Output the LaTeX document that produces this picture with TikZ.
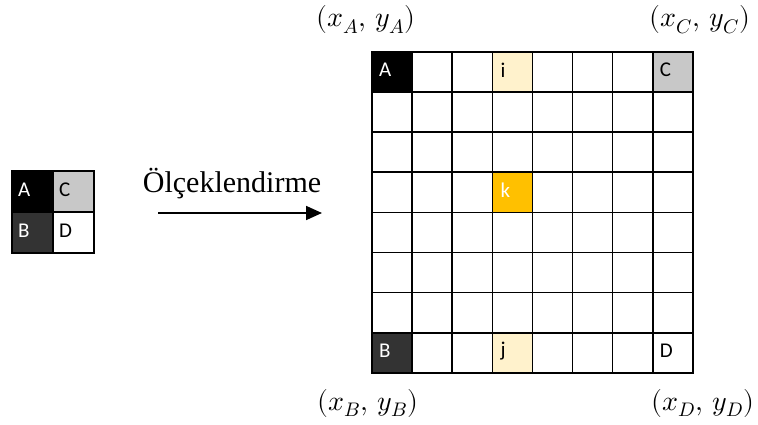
\documentclass[tikz,border=0pt]{standalone}
\usepackage{fontspec}
\usepackage{unicode-math}
\setmainfont{Liberation Serif}
\newfontfamily\cellfont{Carlito}
\usetikzlibrary{arrows.meta}
\definecolor{cream}{HTML}{FFF2CC}
\definecolor{amber}{HTML}{FFC000}
\definecolor{lgray}{HTML}{C8C8C8}
\definecolor{dgray}{HTML}{333333}
\tikzset{
  cell/.style={fill=white, minimum size=40.1pt, inner sep=0pt, outer sep=0pt, anchor=north west},
  scell/.style={cell, minimum size=41pt},
  gridline/.style={draw=black, line width=1.6pt},
  lab/.style={font=\cellfont\fontsize{21}{21}\selectfont, anchor=west, inner sep=0pt},
  coordlab/.style={font=\fontsize{28}{32}\selectfont, inner sep=0pt},
  c00/.style={fill=black}, c07/.style={fill=lgray}, c70/.style={fill=dgray},
  c03/.style={fill=cream}, c73/.style={fill=cream}, c33/.style={fill=amber},
  s00/.style={fill=black}, s01/.style={fill=lgray}, s10/.style={fill=dgray},
}
\begin{document}
\begin{tikzpicture}[x=1pt,y=1pt]
\useasboundingbox (0,0) rectangle (758,-425);
% big grid
\foreach \r in {0,...,7}{
  \foreach \c in {0,...,7}{
    \node[cell, c\r\c/.try] (g\r\c) at ({372+\c*40.1},{-(52+\r*40.1)}) {};
  }
}
\foreach \r in {0,...,7}{
  \foreach \c in {0,...,7}{
    \draw[gridline] (g\r\c.north west) rectangle (g\r\c.south east);
  }
}
% small grid
\foreach \r in {0,1}{
  \foreach \c in {0,1}{
    \node[scell, s\r\c/.try] (s\r\c) at ({12+\c*41},{-(171+\r*41)}) {};
  }
}
\foreach \r in {0,1}{
  \foreach \c in {0,1}{
    \draw[gridline] (s\r\c.north west) rectangle (s\r\c.south east);
  }
}
% cell labels big grid
\node[lab, text=white] (lA) at ([xshift=7pt,yshift=2pt]g00.west) {A};
\node[lab] (lC) at ([xshift=7pt,yshift=2pt]g07.west) {C};
\node[lab, text=white] (lB) at ([xshift=7pt,yshift=2pt]g70.west) {B};
\node[lab] (lD) at ([xshift=7pt,yshift=2pt]g77.west) {D};
\node[lab] (li) at ([xshift=8pt,yshift=2pt]g03.west) {i};
\node[lab] (lj) at ([xshift=8pt,yshift=2pt]g73.west) {j};
\node[lab, text=white] (lk) at ([xshift=8pt,yshift=2pt]g33.west) {k};
% small grid labels
\node[lab, text=white] (sA) at ([xshift=6pt,yshift=2pt]s00.west) {A};
\node[lab] (sC) at ([xshift=6pt,yshift=2pt]s01.west) {C};
\node[lab, text=white] (sB) at ([xshift=6pt,yshift=2pt]s10.west) {B};
\node[lab] (sD) at ([xshift=6pt,yshift=2pt]s11.west) {D};
% arrow and text
\node[font=\fontsize{30}{30}\selectfont, inner sep=0pt, anchor=base] (t) at (232,-193) {Ölçeklendirme};
\coordinate (a1) at (158,-213);
\coordinate (a2) at (322,-213);
\draw[line width=1.8pt, -{Triangle[length=16pt,width=14pt]}] (a1) -- (a2);
% coordinate labels
\node[coordlab] (pA) at (366,-20) {$(x_A,\, y_A)$};
\node[coordlab] (pC) at (700,-20) {$(x_C,\, y_C)$};
\node[coordlab] (pB) at (368,-403) {$(x_B,\, y_B)$};
\node[coordlab] (pD) at (703,-403) {$(x_D,\, y_D)$};
\end{tikzpicture}
\end{document}
